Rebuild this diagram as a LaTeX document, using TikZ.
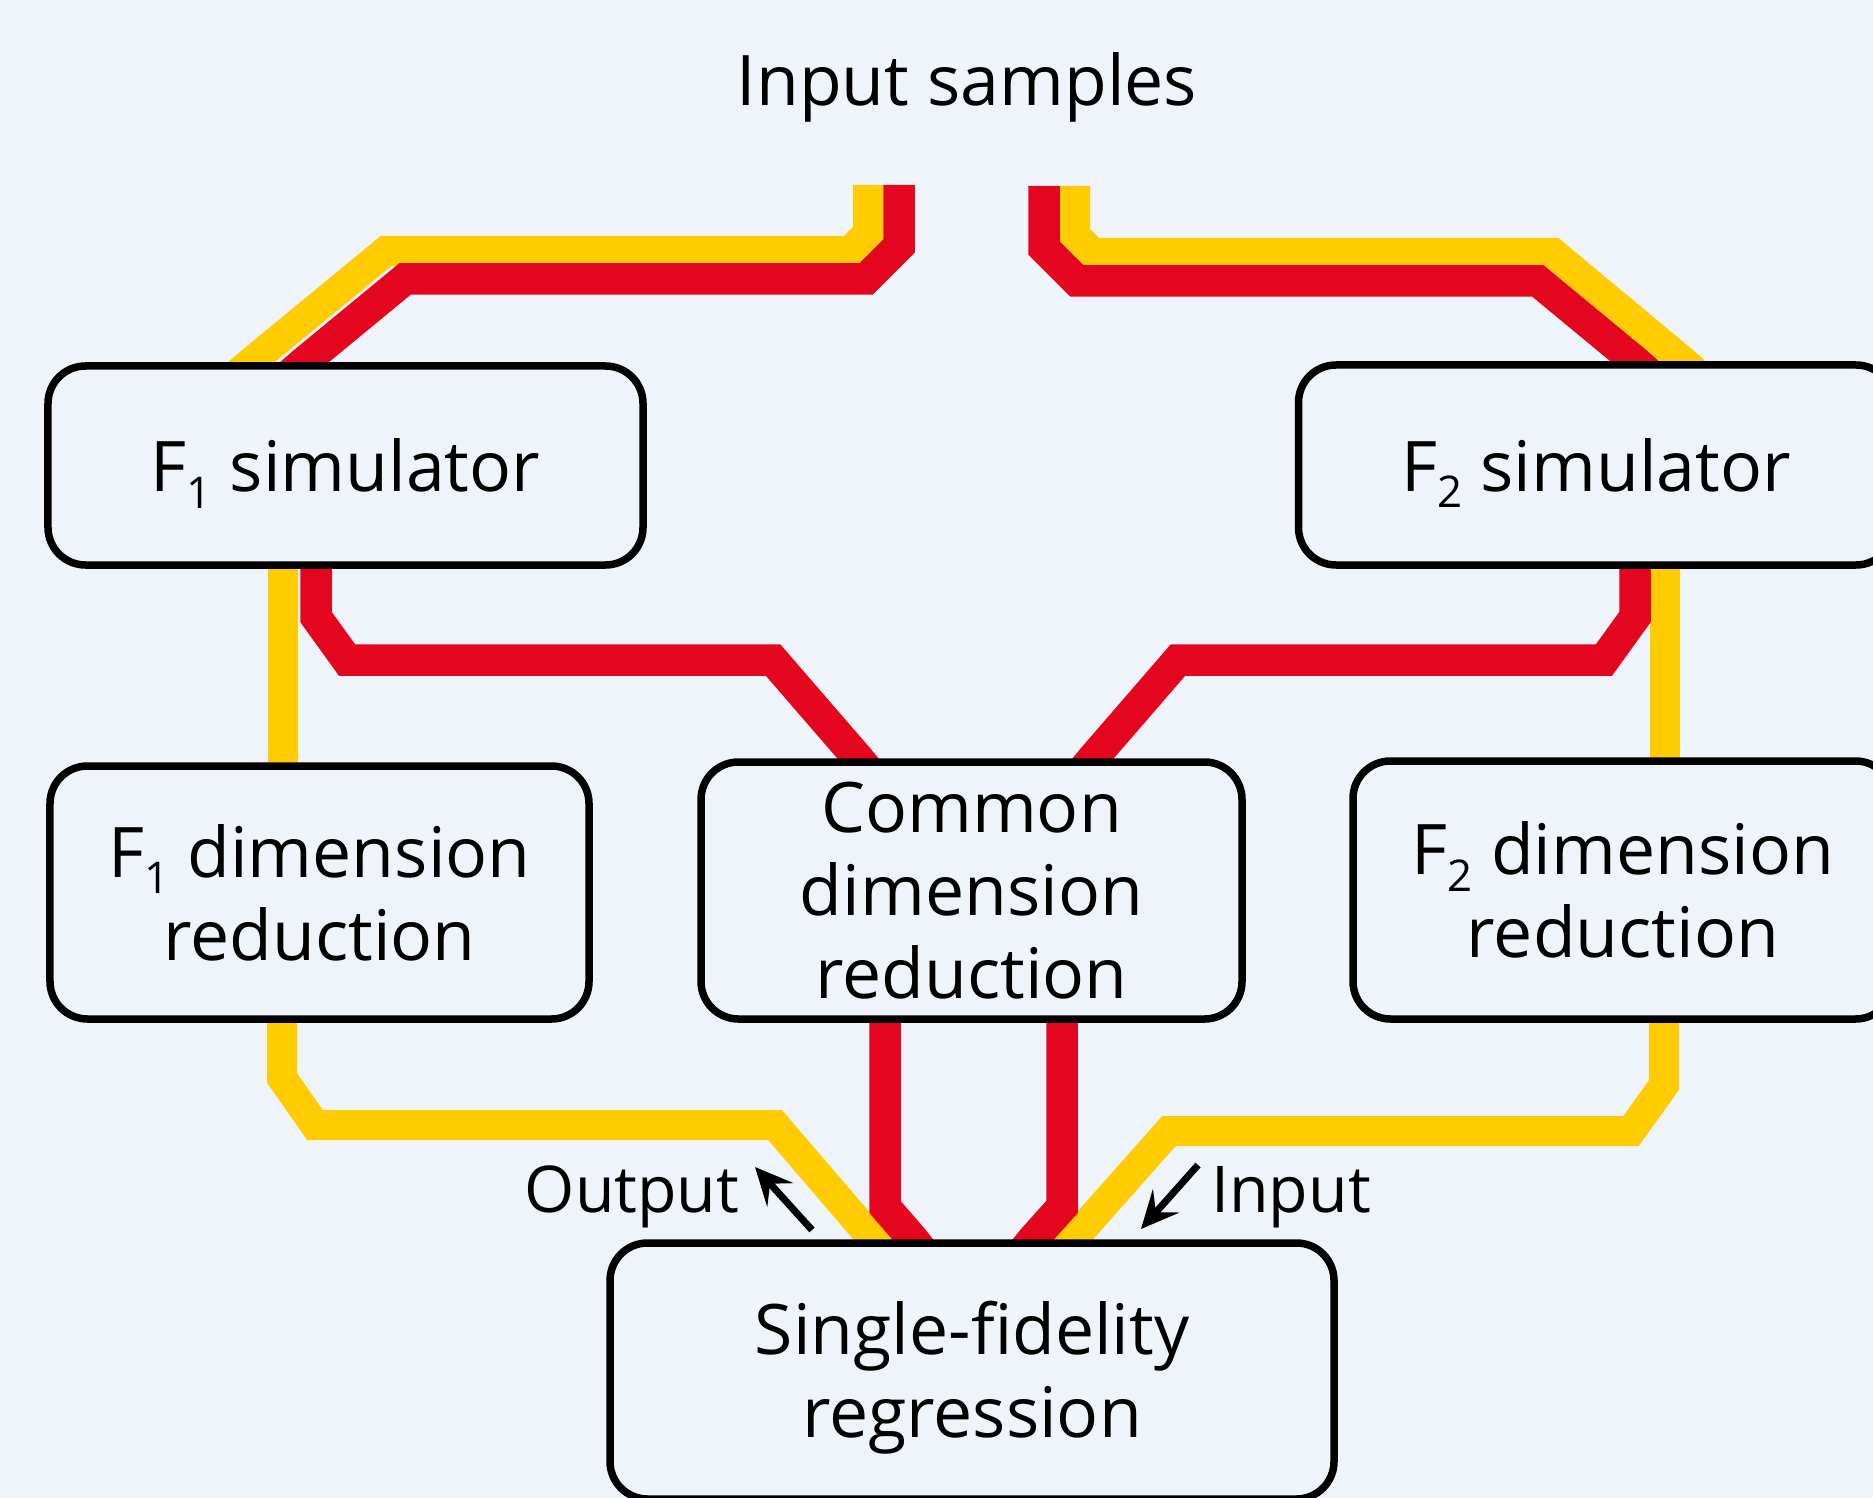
\documentclass[tikz,border=0pt]{standalone}
\usepackage{fontspec}
\setmainfont{Open Sans}
\usetikzlibrary{arrows.meta}
\definecolor{bgc}{RGB}{239,243,250}
\definecolor{redc}{RGB}{227,6,30}
\definecolor{yelc}{RGB}{254,204,0}
\newcommand\fsub[1]{\smash{\raisebox{-0.24em}{\fontsize{17.5pt}{17.5pt}\selectfont #1}}}
\pgfdeclarelayer{bglayer}
\pgfsetlayers{bglayer,main}
\begin{document}
\begin{tikzpicture}[x=0.4pt,y=-0.4pt,
  box/.style={draw=black, line width=3pt, rounded corners=15pt, fill=bgc, inner sep=0pt, align=center, font=\fontsize{27.9pt}{33.2pt}\selectfont},
  ylw/.style={draw=yelc, line width=12pt},
  rd/.style={draw=redc, line width=12.6pt},
  arr/.style={draw=black, line width=2.8pt, -{Stealth[length=15pt,width=14pt,inset=6pt]}},
  lbl/.style={font=\fontsize{27.9pt}{33.2pt}\selectfont, inner sep=0pt},
  sublbl/.style={font=\fontsize{25.8pt}{30pt}\selectfont, inner sep=0pt}
]
\useasboundingbox (0,0) rectangle (1873,1498);

\node[box, minimum width=238pt, minimum height=79.6pt] (f1sim) at (345.5,465.5) {F\fsub{1} simulator};
\node[box, minimum width=238pt, minimum height=80pt] (f2sim) at (1596,465) {F\fsub{2} simulator};
\node[box, minimum width=215.6pt, minimum height=101.2pt] (f1dim) at (319.5,892.5) {F\fsub{1} dimension\\reduction};
\node[box, minimum width=216.4pt, minimum height=102.8pt] (com) at (971.5,890.5) {Common\\dimension\\reduction};
\node[box, minimum width=216pt, minimum height=103.2pt] (f2dim) at (1623,890) {F\fsub{2} dimension\\reduction};
\node[box, minimum width=289.6pt, minimum height=102.4pt, text depth=1.5pt] (sf) at (972,1371) {Single-fidelity\\regression};

\node[lbl, anchor=base] (title) at (967,106) {Input samples};
\node[sublbl, anchor=base] (outl) at (632,1212) {Output};
\node[sublbl, anchor=base] (inl) at (1291,1212) {Input};

\coordinate (yin1) at (868,185);
\coordinate (rin1) at (899,185);
\coordinate (yin2) at (1075,186);
\coordinate (rin2) at (1044,186);
\coordinate (oS) at (812,1230);
\coordinate (oE) at (755,1167);
\coordinate (iS) at (1198,1165);
\coordinate (iE) at (1141,1229);

\draw[arr] (oS) -- (oE);
\draw[arr] (iS) -- (iE);

\begin{pgfonlayer}{bglayer}
\fill[bgc] (0,0) rectangle (1873,1498);
% yellow paths
\draw[ylw] (yin1) -- (868,233) -- (850,251) -- (386,251) -- (251,0 |- f1sim.north) -- ++(-47,40);
\draw[ylw] (yin2) -- (1075,235) -- (1093,253) -- (1553,253) -- (1683,0 |- f2sim.north) -- ++(46,40);
\draw[ylw] (283,0 |- f1sim.south) ++(0,-30) -- (283,0 |- f1dim.north) -- ++(0,30);
\draw[ylw] (1665,0 |- f2sim.south) ++(0,-30) -- (1665,0 |- f2dim.north) -- ++(0,30);
\draw[ylw] (282,0 |- f1dim.south) ++(0,-30) -- (282,1078) -- (315,1125) -- (775,1125) -- (873,0 |- sf.north) -- ++(33,40);
\draw[ylw] (1664,0 |- f2dim.south) ++(0,-30) -- (1664,1085) -- (1631,1131) -- (1169,1131) -- (1073,0 |- sf.north) -- ++(-34,40);
% red paths
\draw[rd] (rin1) -- (899,246) -- (866,279) -- (405,279) -- (304,0 |- f1sim.north) -- ++(-46,40);
\draw[rd] (rin2) -- (1044,248) -- (1077,281) -- (1538,281) -- (1635,0 |- f2sim.north) -- ++(46,40);
\draw[rd] (316,0 |- f1sim.south) ++(0,-30) -- (316,617) -- (347,660) -- (773,660) -- (858,0 |- com.north) -- ++(33,40);
\draw[rd] (1635,0 |- f2sim.south) ++(0,-30) -- (1635,617) -- (1604,660) -- (1178,660) -- (1093,0 |- com.north) -- ++(-33,40);
\draw[rd] (885,0 |- com.south) ++(0,-30) -- (885,1207) -- (913,0 |- sf.north) -- ++(31,40);
\draw[rd] (1062,0 |- com.south) ++(0,-30) -- (1062,1207) -- (1033,0 |- sf.north) -- ++(-32,40);
\end{pgfonlayer}
\end{tikzpicture}
\end{document}
